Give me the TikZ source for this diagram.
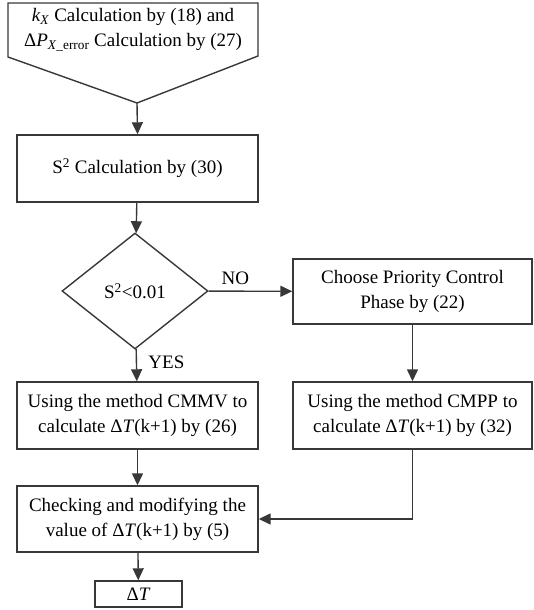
\documentclass[tikz,border=0pt]{standalone}
\usepackage{fontspec}
\setmainfont{Liberation Serif}
\usetikzlibrary{shapes.geometric}
\usetikzlibrary{arrows.meta}
\definecolor{lncol}{gray}{0.22}

\begin{document}
\begin{tikzpicture}[x=1pt, y=-1pt, line width=1.4pt,
     font=\fontsize{19}{25}\selectfont,
     box/.style={draw=lncol, rectangle, align=center, inner sep=0pt},
     arr/.style={draw=lncol, -{Triangle[length=12pt,width=11pt]}}]
     \useasboundingbox (0,0) rectangle (533,610);

     % start block
     \coordinate (tip) at (137,103);
     \draw[lncol] (8,3) -- (258,3) -- (258,56) -- (tip) -- (8,57) -- cycle;
     \node[align=center] (init) at (133,30)
       {\textit{k}\textsubscript{\textit{X}} Calculation by (18) and\\
        Δ\textit{P}\textsubscript{\textit{X}\_error} Calculation by (27)};

     \node[box, minimum width=241, minimum height=67] (calc) at (137.5,168.5)
       {S\textsuperscript{2} Calculation by (30)};
     \node[draw=lncol, diamond, aspect=1.26, inner sep=0pt,
           minimum width=146, minimum height=116] (test) at (135,291)
       {S\textsuperscript{2}<0.01};
     \node[box, minimum width=239, minimum height=65] (choose) at (412.5,291.5)
       {Choose Priority Control\\ Phase by (22)};
     \node[box, minimum width=241, minimum height=67] (cmmv) at (137.5,415.5)
       {Using the method CMMV to\\ calculate Δ\textit{T}(k+1) by (26)};
     \node[box, minimum width=239, minimum height=67] (cmpp) at (412.5,415.5)
       {Using the method CMPP to\\ calculate Δ\textit{T}(k+1) by (32)};
     \node[box, minimum width=241, minimum height=66] (check) at (137.5,519)
       {Checking and modifying the\\ value of Δ\textit{T}(k+1) by (5)};
     \node[box, minimum width=87, minimum height=26] (out) at (138.5,594)
       {Δ\textit{T}};

     % connectors
     \draw[arr] (tip) -- (calc.north);
     \draw[arr] (calc) -- (test);
     \draw[arr] (test) -- node[above, pos=0.32, yshift=2pt]{NO} (choose);
     \draw[arr] (test) -- node[right, pos=0.42, xshift=8pt]{YES} (cmmv);
     \draw[arr] (choose) -- (cmpp);
     \draw[arr] (cmmv) -- (check);
     \draw[arr] (cmpp.south) |- (check.east);
     \draw[arr] (check) -- (out);
\end{tikzpicture}
\end{document}
